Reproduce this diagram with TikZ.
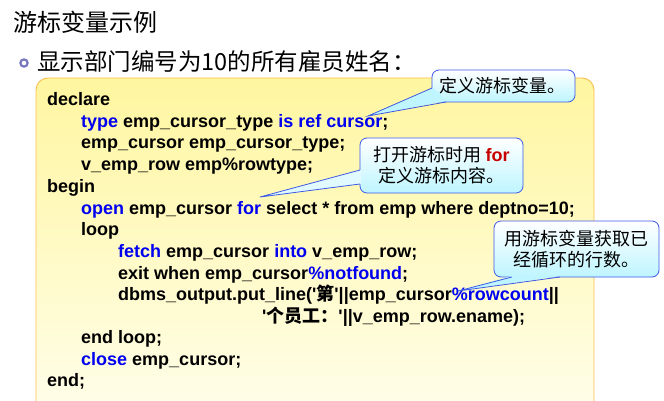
\documentclass[tikz,border=0pt]{standalone}
\usepackage{fontspec}
\setmainfont{Liberation Sans}
\newfontfamily\codef{Liberation Sans}
\newfontfamily\cjk{Noto Sans CJK SC}
\usetikzlibrary{shapes.geometric}
\definecolor{kw}{RGB}{0,0,240}
\definecolor{boxedge}{RGB}{250,190,80}
\definecolor{calledge}{RGB}{60,90,230}
\definecolor{callbot}{RGB}{190,245,255}
\definecolor{callmid}{RGB}{225,250,255}
\definecolor{bul}{RGB}{120,120,190}
\definecolor{boxtop}{RGB}{255,246,160}
\definecolor{boxbot}{RGB}{255,254,235}
\definecolor{forred}{RGB}{200,0,0}
\newcommand{\kw}[1]{{\color{kw}#1}}
\begin{document}
\begin{tikzpicture}[x=1pt,y=-1pt,
  code/.style={anchor=base west,inner sep=0pt,font=\fontsize{18}{18}\selectfont\codef\bfseries},
  calltext/.style={align=center,font=\fontsize{18}{21}\selectfont\cjk,inner sep=0pt},
  callbox/.style={draw=calledge,line width=0.8pt,rounded corners=7pt,top color=white,bottom color=callbot}]
\useasboundingbox (0,0) rectangle (664,401);
\fill[white] (0,0) rectangle (664,401);
\node[anchor=west,inner sep=0pt,font=\fontsize{24}{24}\selectfont\cjk] (title) at (13,22) {游标变量示例};
\draw[bul,line width=2.2pt] (24,63) circle (3.6pt);
\node[anchor=west,inner sep=0pt,font=\fontsize{23.5}{23.5}\selectfont\cjk] (sub) at (37,62) {显示部门编号为10的所有雇员姓名：};
\path[draw=boxedge,line width=0.9pt,rounded corners=12pt,top color=boxtop,bottom color=boxbot] (36,420) -- (36,78) -- (594,78) -- (594,420);
\node[code] (l1) at (47,106) {declare};
\node[code] (l2) at (81,127.5) {\kw{type} emp\_cursor\_type \kw{is ref cursor};};
\node[code] (l3) at (81,149) {emp\_cursor emp\_cursor\_type;};
\node[code] (l4) at (81,170.5) {v\_emp\_row emp\%rowtype;};
\node[code] (l5) at (47,192) {begin};
\node[code] (l6) at (81,214) {\kw{open} emp\_cursor \kw{for} select * from emp where deptno=10;};
\node[code] (l7) at (81,235.5) {loop};
\node[code] (l8) at (118,257) {\kw{fetch} emp\_cursor \kw{into} v\_emp\_row;};
\node[code] (l9) at (118,279) {exit when emp\_cursor\kw{\%notfound};};
\node[code] (l10) at (118,300.5) {dbms\_output.put\_line('{\cjk 第}'||emp\_cursor\kw{\%rowcount}||};
\node[code] (l11) at (262,322) {'{\cjk 个员工：}'||v\_emp\_row.ename);};
\node[code] (l12) at (81,343.5) {end loop;};
\node[code] (l13) at (81,365) {\kw{close} emp\_cursor;};
\node[code] (l14) at (47,386.5) {end;};
% callout 1
\coordinate (t1) at (368,116);
\draw[callbox] (432,70) rectangle (575,102);
\fill[callbot] (433,88) -- (t1) -- (446,101) -- cycle;
\draw[calledge,line width=0.8pt] (432,88) -- (t1) -- (446,102);
\node[calltext] (c1) at (502,86) {定义游标变量。};
% callout 2
\coordinate (t2) at (260,197);
\draw[callbox] (360,138) rectangle (523,193);
\fill[callmid] (361,170) -- (t2) -- (361,184) -- cycle;
\draw[calledge,line width=0.8pt] (360,170) -- (t2) -- (360,184);
\node[calltext] (c2) at (441.5,165.5) {打开游标时用 {\codef\bfseries\color{forred}for}\\定义游标内容。};
% callout 3
\coordinate (t3) at (458,291);
\draw[callbox] (494,221) rectangle (659,277);
\fill[callbot] (512,276) -- (t3) -- (560,276) -- cycle;
\draw[calledge,line width=0.8pt] (512,277) -- (t3) -- (560,277);
\node[calltext] (c3) at (576.5,249) {用游标变量获取已\\经循环的行数。};
\end{tikzpicture}
\end{document}
